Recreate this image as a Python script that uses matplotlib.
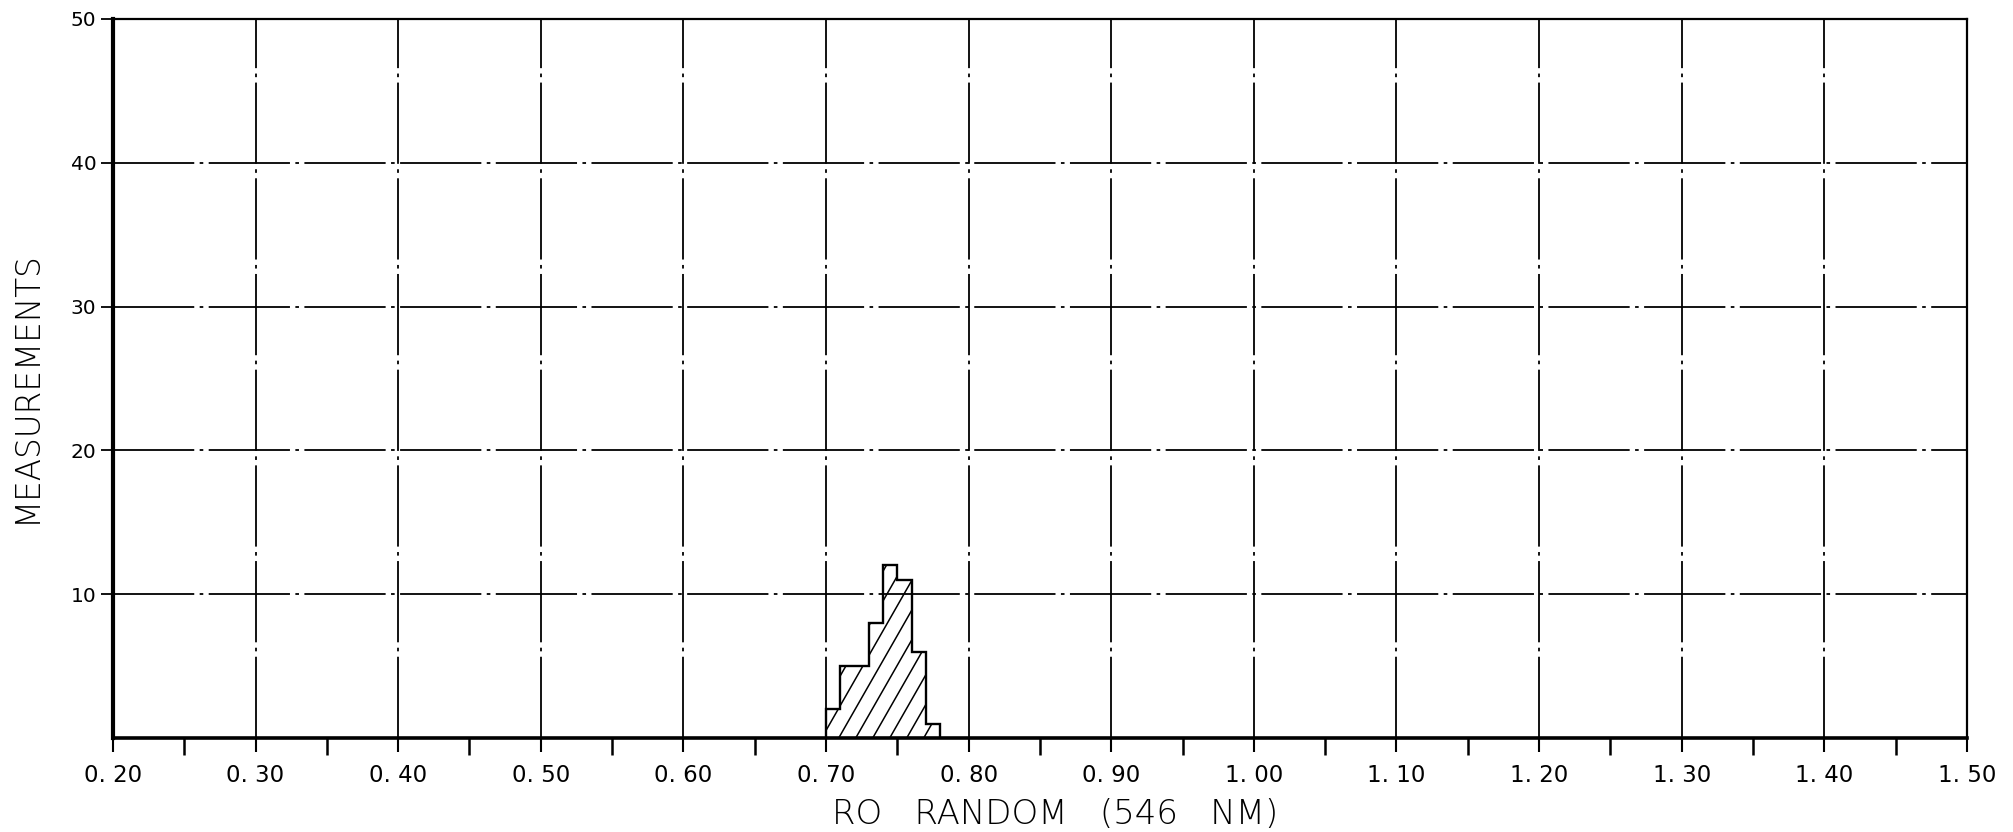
import numpy as np
import matplotlib
matplotlib.use('Agg')
import matplotlib.pyplot as plt

plt.rcParams['font.family'] = ['DejaVu Sans']

# reflectance histogram, 0.01 wide classes
bin_edges = [0.70, 0.71, 0.72, 0.73, 0.74, 0.75, 0.76, 0.77, 0.78]
counts = [2, 5, 5, 8, 12, 11, 6, 1]

x_major = [0.20, 0.30, 0.40, 0.50, 0.60, 0.70, 0.80, 0.90, 1.00, 1.10, 1.20, 1.30, 1.40, 1.50]
x_minor = [0.25, 0.35, 0.45, 0.55, 0.65, 0.75, 0.85, 0.95, 1.05, 1.15, 1.25, 1.35, 1.45]
y_major = [10, 20, 30, 40, 50]

fig = plt.figure(figsize=(20.13, 8.32), dpi=100)
ax = fig.add_axes([0.0561, 0.1130, 0.9210, 0.8642])
ax.set_xlim(0.20, 1.50)
ax.set_ylim(0, 50)

# plotter-style grid: long dashes with a dot between
grid_ls = (0, (45, 3, 2, 3))
for xv in x_major[1:-1]:
    ax.axvline(xv, color='k', lw=1.3, ls=grid_ls, zorder=1)
for yv in y_major[:-1]:
    ax.axhline(yv, color='k', lw=1.3, ls=grid_ls, zorder=1)

# histogram outline + steep diagonal hatching clipped to it
ax.stairs(counts, bin_edges, fill=False, color='k', lw=1.7, zorder=3)
clip = ax.stairs(counts, bin_edges, fill=True, facecolor='none',
                 edgecolor='none', zorder=2)
# hatch slope in data units: ~1.75 px rise per px run
px_x = 0.921 * 2013 / 1.30
px_y = 0.8642 * 832 / 50
slope = 1.75 * px_x / px_y
step = 17 / px_x
for x0 in np.arange(bin_edges[0] - 15 / slope, bin_edges[-1], step):
    ln, = ax.plot([x0, x0 + 15 / slope], [0, 15], color='k', lw=1.1, zorder=2)
    ln.set_clip_path(clip)

for side in ['top', 'right']:
    ax.spines[side].set_linewidth(1.6)
ax.spines['left'].set_linewidth(3.0)
ax.spines['bottom'].set_linewidth(2.6)

ax.set_xticks(x_major)
ax.set_xticklabels([f'{v:.2f}'.replace('.', '. ') for v in x_major], fontsize=16.5)
ax.set_xticks(x_minor, minor=True)
ax.tick_params(axis='x', which='major', direction='out', length=10, width=1.5, pad=9)
ax.tick_params(axis='x', which='minor', direction='out', length=12, width=1.8)

ax.set_yticks(y_major)
ax.set_yticklabels([str(v) for v in y_major], fontsize=14.5)
ax.tick_params(axis='y', direction='out', length=9, width=1.3, pad=3)

fig.text(0.0129, 0.535, 'MEASUREMENTS', rotation=90, fontsize=23.5,
         ha='center', va='center', fontweight='light')
fig.text(0.524, 0.021, 'RO   RANDOM   (546   NM)', fontsize=24.5,
         ha='center', va='center', fontweight='light')

fig.savefig('out.png', dpi=100, facecolor='white')
